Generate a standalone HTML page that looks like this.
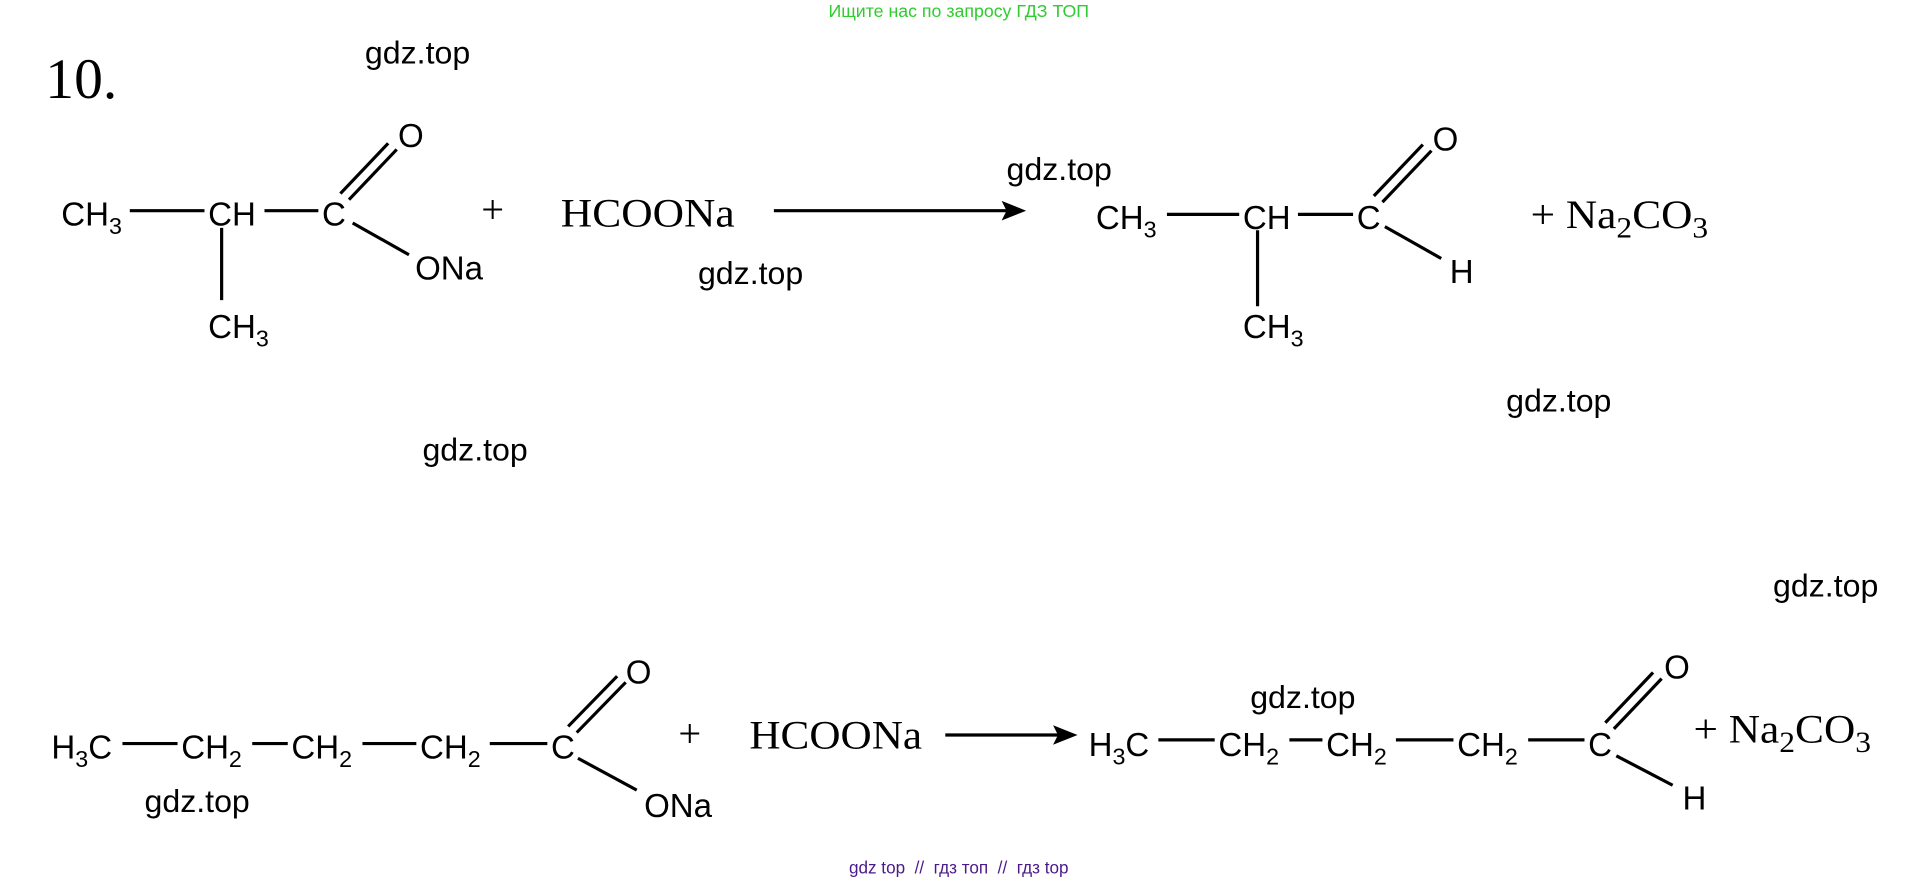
<!DOCTYPE html>
<html><head><meta charset="utf-8"><style>
html,body{margin:0;padding:0;background:#fff;}
svg{display:block;}
.s{font-family:"Liberation Sans",sans-serif;font-size:27px;fill:#000;}
.g{font-family:"Liberation Sans",sans-serif;font-size:26px;fill:#000;}
.r{font-family:"Liberation Serif",serif;font-size:33px;fill:#000;}
.sub{font-size:19px;}
line{stroke:#000;stroke-width:2.6;}
</style></head><body>
<svg width="1920" height="882" viewBox="0 0 1568 720" preserveAspectRatio="none" xmlns="http://www.w3.org/2000/svg">
<text x="783" y="14" text-anchor="middle" font-family="Liberation Sans,sans-serif" font-size="14.5" fill="#2ecc2e">Ищите нас по запросу ГДЗ ТОП</text>
<text x="37" y="80" font-family="Liberation Serif,serif" font-size="47">10.</text>
<g class="g">
<text x="298" y="52" textLength="86" lengthAdjust="spacingAndGlyphs">gdz.top</text>
<text x="570" y="232" textLength="86" lengthAdjust="spacingAndGlyphs">gdz.top</text>
<text x="822" y="147" textLength="86" lengthAdjust="spacingAndGlyphs">gdz.top</text>
<text x="1230" y="336" textLength="86" lengthAdjust="spacingAndGlyphs">gdz.top</text>
<text x="345" y="376" textLength="86" lengthAdjust="spacingAndGlyphs">gdz.top</text>
<text x="1448" y="487" textLength="86" lengthAdjust="spacingAndGlyphs">gdz.top</text>
<text x="118" y="663" textLength="86" lengthAdjust="spacingAndGlyphs">gdz.top</text>
<text x="1021" y="578" textLength="86" lengthAdjust="spacingAndGlyphs">gdz.top</text>
</g>

<!-- row 1 reactant -->
<text class="s" x="50" y="184">CH<tspan class="sub" dy="7">3</tspan></text>
<line x1="106" y1="172" x2="167" y2="172"/>
<text class="s" x="170" y="184">CH</text>
<line x1="216" y1="172" x2="260" y2="172"/>
<text class="s" x="263" y="184">C</text>
<line x1="181" y1="186" x2="181" y2="245"/>
<text class="s" x="170" y="276">CH<tspan class="sub" dy="7">3</tspan></text>
<line x1="278" y1="158" x2="317" y2="117"/>
<line x1="285" y1="163" x2="324" y2="122"/>
<text class="s" x="325" y="120">O</text>
<line x1="288" y1="182" x2="334" y2="208"/>
<text class="s" x="339" y="228">ONa</text>
<text class="r" x="393" y="182">+</text>
<text class="r" x="458" y="185" textLength="142" lengthAdjust="spacingAndGlyphs">HCOONa</text>
<line x1="632" y1="172" x2="824" y2="172"/>
<polygon points="838,172 818,164 822,172 818,180"/>
<!-- row 1 product -->
<text class="s" x="895" y="187">CH<tspan class="sub" dy="7">3</tspan></text>
<line x1="953" y1="175" x2="1012" y2="175"/>
<text class="s" x="1015" y="187">CH</text>
<line x1="1060" y1="175" x2="1105" y2="175"/>
<text class="s" x="1108" y="187">C</text>
<line x1="1027" y1="188" x2="1027" y2="250"/>
<text class="s" x="1015" y="276">CH<tspan class="sub" dy="7">3</tspan></text>
<line x1="1122" y1="160" x2="1162" y2="118"/>
<line x1="1129" y1="165" x2="1169" y2="123"/>
<text class="s" x="1170" y="123">O</text>
<line x1="1131" y1="185" x2="1177" y2="211"/>
<text class="s" x="1184" y="231">H</text>
<text class="r" x="1250" y="186" textLength="145" lengthAdjust="spacingAndGlyphs">+ Na<tspan font-size="24" dy="8">2</tspan><tspan dy="-8">CO</tspan><tspan font-size="24" dy="8">3</tspan></text>

<!-- row 2 reactant -->
<text class="s" x="42" y="619">H<tspan class="sub" dy="7">3</tspan><tspan dy="-7">C</tspan></text>
<line x1="100" y1="607" x2="145" y2="607"/>
<text class="s" x="148" y="619">CH<tspan class="sub" dy="7">2</tspan></text>
<line x1="206" y1="607" x2="235" y2="607"/>
<text class="s" x="238" y="619">CH<tspan class="sub" dy="7">2</tspan></text>
<line x1="296" y1="607" x2="340" y2="607"/>
<text class="s" x="343" y="619">CH<tspan class="sub" dy="7">2</tspan></text>
<line x1="400" y1="607" x2="447" y2="607"/>
<text class="s" x="450" y="619">C</text>
<line x1="464" y1="593" x2="504" y2="552"/>
<line x1="471" y1="598" x2="511" y2="557"/>
<text class="s" x="511" y="558">O</text>
<line x1="472" y1="619" x2="520" y2="645"/>
<text class="s" x="526" y="667">ONa</text>
<text class="r" x="554" y="610">+</text>
<text class="r" x="612" y="611" textLength="141" lengthAdjust="spacingAndGlyphs">HCOONa</text>
<line x1="772" y1="600" x2="866" y2="600"/>
<polygon points="880,600 860,592 864,600 860,608"/>
<!-- row 2 product -->
<text class="s" x="889" y="617">H<tspan class="sub" dy="7">3</tspan><tspan dy="-7">C</tspan></text>
<line x1="946" y1="604" x2="992" y2="604"/>
<text class="s" x="995" y="617">CH<tspan class="sub" dy="7">2</tspan></text>
<line x1="1053" y1="604" x2="1080" y2="604"/>
<text class="s" x="1083" y="617">CH<tspan class="sub" dy="7">2</tspan></text>
<line x1="1140" y1="604" x2="1187" y2="604"/>
<text class="s" x="1190" y="617">CH<tspan class="sub" dy="7">2</tspan></text>
<line x1="1248" y1="604" x2="1294" y2="604"/>
<text class="s" x="1297" y="617">C</text>
<line x1="1311" y1="590" x2="1350" y2="549"/>
<line x1="1318" y1="595" x2="1357" y2="554"/>
<text class="s" x="1359" y="554">O</text>
<line x1="1320" y1="617" x2="1366" y2="641"/>
<text class="s" x="1374" y="661">H</text>
<text class="r" x="1383" y="606" textLength="145" lengthAdjust="spacingAndGlyphs">+ Na<tspan font-size="24" dy="8">2</tspan><tspan dy="-8">CO</tspan><tspan font-size="24" dy="8">3</tspan></text>

<text x="783" y="713" text-anchor="middle" font-family="Liberation Sans,sans-serif" font-size="14" fill="#4b1a8a" xml:space="preserve">gdz top  //  гдз топ  //  гдз top</text>
</svg>
</body></html>
